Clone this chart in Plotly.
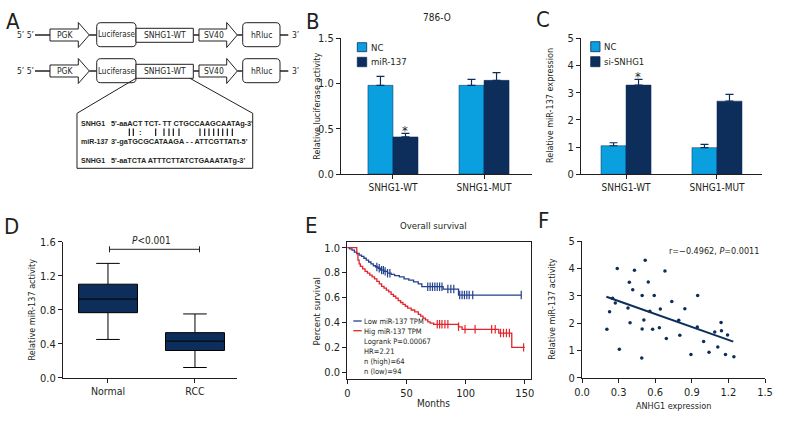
import numpy as np
import plotly.graph_objects as go

W, H = 792, 432
def px(x): return x / W
def py(y): return 1 - y / H

FONT = "Liberation Sans Narrow, Arial Narrow, DejaVu Sans Condensed, sans-serif"
SEQFONT = "Liberation Sans, Arial, sans-serif"
LIGHT = "#0aa0e0"
NAVY = "#0d2d5a"
INK = "#231f20"
KM_BLUE = "#23408e"
KM_RED = "#e3232b"

# ---------------- data ----------------
b_groups = ["SNHG1-WT", "SNHG1-MUT"]
b_nc = [0.98, 0.98]
b_nc_err = [0.10, 0.067]
b_mir = [0.41, 1.035]
b_mir_err = [0.04, 0.085]

c_groups = ["SNHG1-WT", "SNHG1-MUT"]
c_nc = [1.05, 0.98]
c_nc_err = [0.11, 0.12]
c_si = [3.28, 2.69]
c_si_err = [0.21, 0.25]

d_groups = ["Normal", "RCC"]
d_lower = [0.45, 0.12]
d_q1 = [0.765, 0.32]
d_median = [0.925, 0.43]
d_q3 = [1.10, 0.53]
d_upper = [1.345, 0.75]

e_low_t = [0, 2, 4, 6, 8, 10, 12, 14, 16, 18, 20, 22, 24, 26, 28, 31, 34, 37, 40, 44,
           48, 52, 56, 60, 63, 81, 94, 147]
e_low_s = [1.0, 0.99, 0.98, 0.965, 0.955, 0.94, 0.93, 0.915, 0.90, 0.885, 0.87, 0.855,
           0.845, 0.835, 0.82, 0.81, 0.795, 0.785, 0.775, 0.765, 0.75, 0.74, 0.725, 0.71,
           0.687, 0.668, 0.62, 0.62]
e_low_cens = [25, 27, 29, 30.5, 32, 34, 36, 68, 70, 72, 74, 76, 78, 80, 85, 87.5, 90,
              95, 97, 99, 101, 103, 106, 147]

e_high_t = [0, 8, 9, 10, 11, 13, 15, 17, 19, 21, 23, 25, 27, 29, 31, 33, 35, 37, 39, 41,
            43, 45, 47, 49, 51, 54, 57, 60, 62, 64, 66, 68, 70, 73, 94, 97, 128, 139, 150]
e_high_s = [1.0, 0.95, 0.90, 0.87, 0.85, 0.83, 0.81, 0.795, 0.78, 0.765, 0.75, 0.73, 0.71,
            0.69, 0.675, 0.66, 0.645, 0.625, 0.61, 0.595, 0.575, 0.56, 0.545, 0.53, 0.515,
            0.50, 0.485, 0.465, 0.45, 0.435, 0.42, 0.405, 0.395, 0.385, 0.365, 0.345,
            0.315, 0.20, 0.20]
e_high_cens = [76, 78, 80, 82.5, 85, 94, 99.5, 108, 122, 125, 129.5, 132, 134.5, 137, 149]

f_x = [0.204, 0.226, 0.251, 0.273, 0.289, 0.306, 0.377, 0.388, 0.394, 0.416, 0.430,
       0.493, 0.493, 0.490, 0.507, 0.518, 0.543, 0.556, 0.579, 0.592, 0.634, 0.642,
       0.680, 0.691, 0.736, 0.793, 0.802, 0.843, 0.893, 0.945, 0.948, 0.997, 1.041,
       1.088, 1.113, 1.140, 1.143, 1.176, 1.193, 1.245]
f_y = [1.77, 2.41, 2.91, 2.73, 3.99, 1.04, 2.55, 3.49, 2.01, 3.22, 3.93, 3.01, 1.78,
       0.72, 2.11, 4.30, 3.50, 2.43, 1.77, 3.01, 1.83, 2.51, 3.90, 1.43, 2.79, 2.10,
       1.55, 2.52, 0.85, 1.85, 3.01, 1.32, 0.93, 1.67, 1.12, 2.02, 1.72, 0.85, 1.56, 0.77]
f_fit_x = [0.20, 1.24]
f_fit_y = [2.96, 1.32]


def step_at(ts, ss, t):
    idx = np.searchsorted(np.array(ts), np.array(t), side="right") - 1
    return [ss[i] for i in idx]


fig = go.Figure()


def bar(x, y, err, color, xa, ya, grp):
    return go.Bar(x=x, y=y, marker=dict(color=color, line=dict(color=NAVY, width=0.5)),
                  error_y=dict(type="data", symmetric=False, array=err, arrayminus=[0] * len(err),
                               color=NAVY, thickness=1.2, width=4),
                  xaxis=xa, yaxis=ya, offsetgroup=grp, hoverinfo="skip")


# B
fig.add_trace(bar(b_groups, b_nc, b_nc_err, LIGHT, "x", "y", "1"))
fig.add_trace(bar(b_groups, b_mir, b_mir_err, NAVY, "x", "y", "2"))
# C
fig.add_trace(bar(c_groups, c_nc, c_nc_err, LIGHT, "x2", "y2", "1"))
fig.add_trace(bar(c_groups, c_si, c_si_err, NAVY, "x2", "y2", "2"))
# D
fig.add_trace(go.Box(x=d_groups, q1=d_q1, median=d_median, q3=d_q3, lowerfence=d_lower,
                     upperfence=d_upper, fillcolor=NAVY, line=dict(color="black", width=1),
                     whiskerwidth=0.4, width=0.678, boxpoints=False, xaxis="x3", yaxis="y3",
                     hoverinfo="skip"))
# E
fig.add_trace(go.Scatter(x=e_low_t, y=e_low_s, mode="lines", line=dict(color=KM_BLUE, width=1.3, shape="hv"),
                         xaxis="x4", yaxis="y4", hoverinfo="skip"))
fig.add_trace(go.Scatter(x=e_high_t, y=e_high_s, mode="lines", line=dict(color=KM_RED, width=1.3, shape="hv"),
                         xaxis="x4", yaxis="y4", hoverinfo="skip"))
fig.add_trace(go.Scatter(x=e_low_cens, y=step_at(e_low_t, e_low_s, e_low_cens), mode="markers",
                         marker=dict(symbol="line-ns", size=6, line=dict(color=KM_BLUE, width=1.2)),
                         xaxis="x4", yaxis="y4", hoverinfo="skip"))
fig.add_trace(go.Scatter(x=e_high_cens, y=step_at(e_high_t, e_high_s, e_high_cens), mode="markers",
                         marker=dict(symbol="line-ns", size=6, line=dict(color=KM_RED, width=1.2)),
                         xaxis="x4", yaxis="y4", hoverinfo="skip"))
# F
fig.add_trace(go.Scatter(x=f_x, y=f_y, mode="markers", marker=dict(color=NAVY, size=3.5),
                         xaxis="x5", yaxis="y5", hoverinfo="skip"))
fig.add_trace(go.Scatter(x=f_fit_x, y=f_fit_y, mode="lines", line=dict(color=NAVY, width=2),
                         xaxis="x5", yaxis="y5", hoverinfo="skip"))


def ax(size=11, **kw):
    d = dict(showline=True, linecolor=INK, linewidth=1, ticks="outside", ticklen=4, tickwidth=1,
             tickcolor=INK, showgrid=False, zeroline=False,
             tickfont=dict(family=FONT, size=size, color=INK), fixedrange=True)
    d.update(kw)
    return d


fig.update_layout(
    width=W, height=H, margin=dict(l=0, r=0, t=0, b=0, autoexpand=False),
    paper_bgcolor="white", plot_bgcolor="white", showlegend=False, hovermode=False,
    barmode="group", bargap=0.45, bargroupgap=0,
    xaxis=ax(10, domain=[px(341), px(532)], anchor="y", type="category", range=[-0.571, 1.527]),
    yaxis=ax(11, domain=[py(174), py(38.3)], anchor="x", range=[0, 1.5], tickvals=[0, 0.5, 1, 1.5], tickformat=".1f"),
    xaxis2=ax(10, domain=[px(581), px(762)], anchor="y2", type="category", range=[-0.495, 1.495]),
    yaxis2=ax(11, domain=[py(174.3), py(38.3)], anchor="x2", range=[0, 5], tickvals=[0, 1, 2, 3, 4, 5]),
    xaxis3=ax(10.5, domain=[px(63), px(237)], anchor="y3", type="category", range=[-0.517, 1.483]),
    yaxis3=ax(11, domain=[py(377.7), py(241.7)], anchor="x3", range=[0, 1.6], tickvals=[0, 0.4, 0.8, 1.2, 1.6], tickformat=".1f"),
    xaxis4=ax(11, domain=[px(347.3), px(530.7)], anchor="y4", range=[0, 155], tickvals=[0, 50, 100, 150], mirror=True),
    yaxis4=ax(11, domain=[py(379), py(241.7)], anchor="x4", range=[-0.054, 1.048], tickvals=[0, 0.2, 0.4, 0.6, 0.8, 1.0], tickformat=".1f", mirror=True),
    xaxis5=ax(11, domain=[px(582), px(765)], anchor="y5", range=[0, 1.5], tickvals=[0, 0.3, 0.6, 0.9, 1.2, 1.5], tickformat=".1f"),
    yaxis5=ax(11, domain=[py(377.7), py(241)], anchor="x5", range=[0, 5], tickvals=[0, 1, 2, 3, 4, 5]),
)

shapes = []
ann = []


def line(x0, y0, x1, y1, w=1, color=INK):
    shapes.append(dict(type="line", xref="paper", yref="paper", x0=px(x0), y0=py(y0), x1=px(x1), y1=py(y1),
                       line=dict(color=color, width=w)))


def rect(x0, y0, x1, y1, fill="white", w=1, color=INK):
    shapes.append(dict(type="rect", xref="paper", yref="paper", x0=px(x0), y0=py(y1), x1=px(x1), y1=py(y0),
                       fillcolor=fill, line=dict(color=color, width=w)))


def poly(pts, closed=True, fill="white", w=1, color=INK):
    p = "M " + " L ".join(f"{px(x):.5f},{py(y):.5f}" for x, y in pts)
    if closed:
        p += " Z"
    d = dict(type="path", xref="paper", yref="paper", path=p, line=dict(color=color, width=w))
    if closed:
        d["fillcolor"] = fill
    shapes.append(d)


def rrect(x0, y0, x1, y1, r=4, fill="white", w=1, color=INK):
    rx, ry = r / W, r / H
    X0, X1 = px(x0), px(x1)
    Y0, Y1 = py(y1), py(y0)
    p = (f"M {X0+rx:.5f},{Y1:.5f} L {X1-rx:.5f},{Y1:.5f} Q {X1:.5f},{Y1:.5f} {X1:.5f},{Y1-ry:.5f} "
         f"L {X1:.5f},{Y0+ry:.5f} Q {X1:.5f},{Y0:.5f} {X1-rx:.5f},{Y0:.5f} "
         f"L {X0+rx:.5f},{Y0:.5f} Q {X0:.5f},{Y0:.5f} {X0:.5f},{Y0+ry:.5f} "
         f"L {X0:.5f},{Y1-ry:.5f} Q {X0:.5f},{Y1:.5f} {X0+rx:.5f},{Y1:.5f} Z")
    shapes.append(dict(type="path", xref="paper", yref="paper", path=p, fillcolor=fill,
                       line=dict(color=color, width=w)))


def txt(x, y, s, size=11, xanchor="center", family=FONT, angle=0, color=INK, yanchor="middle"):
    ann.append(dict(x=px(x), y=py(y), xref="paper", yref="paper", text=s, showarrow=False,
                    xanchor=xanchor, yanchor=yanchor, textangle=angle, borderpad=0,
                    font=dict(family=family, size=size, color=color)))


# ---------------- panel A (schematic) ----------------
def arrow(x0, x1, xh, yc, label):
    poly([(x0, yc - 6), (x1, yc - 6), (x1, yc - 12.5), (xh, yc), (x1, yc + 12.5), (x1, yc + 6), (x0, yc + 6)])
    txt((x0 + x1) / 2 + 1, yc, label, size=8.5)


for yc in (35, 71):
    txt(25, yc, "5’ 5’", size=8.5)
    line(35, yc, 50, yc, w=1.5)
    arrow(50, 78.3, 89.3, yc, "PGK")
    line(89.3, yc, 96.7, yc, w=1.5)
    line(193.3, yc, 199, yc, w=1.5)
    line(237.3, yc, 242.7, yc, w=1.5)
    line(280, yc, 288.3, yc, w=1.5)
    rrect(96.7, yc - 12.3, 136, yc + 11.7, r=4)
    txt(116.3, yc, "Luciferase", size=8)
    rect(136, yc - 6.7, 193.3, yc + 7.3)
    txt(164.7, yc, "SNHG1-WT", size=8.5)
    arrow(199, 226.7, 237.3, yc, "SV40")
    rrect(242.7, yc - 12.3, 280, yc + 11.7, r=4)
    txt(261.3, yc, "hRluc", size=8.5)
    txt(295, yc, "3’", size=8.5)

# callout
poly([(136, 78.3), (77, 113.3), (77, 168.3), (252.7, 168.3), (252.7, 113.3), (190, 78.3)], closed=False)
seq_rows = [
    (123.3, "SNHG1", "5'-aaACT TCT- TT CTGCCAAGCAATAg-3'"),
    (141.7, "miR-137", "3'-gaTGCGCATAAGA - - ATTCGTTATt-5'"),
    (161.0, "SNHG1", "5'-aaTCTA ATTTCTTATCTGAAATATg-3'"),
]
for yy, lab, seq in seq_rows:
    txt(80, yy, f"<b>{lab}</b>", size=7, xanchor="left", family=SEQFONT)
    txt(110, yy, f"<b>{seq}</b>", size=7.3, xanchor="left", family=SEQFONT)
for bx in [129.3, 133.3, 155.7, 164, 169, 173.3, 179, 200, 204.7, 209, 213.7, 218.3, 222.7, 227.3, 232.3]:
    line(bx, 128.5, bx, 136, w=1.1, color="black")
txt(140, 132, "<b>:</b>", size=7.5, family=SEQFONT)

# ---------------- panel labels ----------------
for lab, x, y in [("A", 13.5, 21.7), ("B", 313.3, 21.7), ("C", 543, 20), ("D", 11.7, 226.7),
                  ("E", 311.7, 225), ("F", 543.3, 220)]:
    txt(x, y, lab, size=22)

# ---------------- B annotations ----------------
txt(437, 18, "786-O", size=10)
txt(316.7, 106, "Relative luciferase activity", size=9, angle=-90)
rect(357.3, 42.7, 366.7, 51.7, fill=LIGHT, w=0.8, color=NAVY)
rect(357.3, 57.3, 366.7, 66.7, fill=NAVY, w=0.8, color=NAVY)
txt(370, 47.2, "NC", size=9.5, xanchor="left")
txt(370, 62, "miR-137", size=9.5, xanchor="left")
txt(405, 131, "*", size=13)

# ---------------- C annotations ----------------
txt(550, 106, "Relative miR-137 expression", size=9, angle=-90)
rect(590.7, 41.7, 600, 51.7, fill=LIGHT, w=0.8, color=NAVY)
rect(590.7, 56.7, 600, 66.7, fill=NAVY, w=0.8, color=NAVY)
txt(603.3, 46.7, "NC", size=9.5, xanchor="left")
txt(603.3, 61.7, "si-SNHG1", size=9.5, xanchor="left")
txt(638.3, 77, "*", size=13)

# ---------------- D annotations ----------------
txt(31.7, 309.7, "Relative miR-137 activity", size=9, angle=-90)
line(109.5, 249.3, 199.5, 249.3, w=1)
line(109.5, 246.3, 109.5, 252.3, w=1)
line(199.5, 246.3, 199.5, 252.3, w=1)
txt(151.7, 240.7, "<i>P</i>&lt;0.001", size=10)

# ---------------- E annotations ----------------
txt(433.3, 225, "Overall survival", size=9.5)
txt(316.7, 311.7, "Percent survival", size=9.5, angle=-90)
txt(433.3, 403, "Months", size=10)
line(353.3, 321, 361.7, 321, w=1.3, color=KM_BLUE)
line(353.3, 330.7, 361.7, 330.7, w=1.3, color=KM_RED)
for i, s in enumerate(["Low miR-137 TPM", "Hig miR-137 TPM", "Logrank P=0.00067", "HR=2.21",
                       "n (high)=64", "n (low)=94"]):
    txt(363.3, 321 + 10 * i, s, size=7.5, xanchor="left")

# ---------------- F annotations ----------------
txt(551.7, 309, "Relative miR-137 activity", size=9, angle=-90)
txt(673.3, 406, "ANHG1 expression", size=9)
txt(714, 251, "r=−0.4962, <i>P</i>=0.0011", size=9)

fig.update_layout(shapes=shapes, annotations=ann)
fig.write_html("out.html", config={"displayModeBar": False, "staticPlot": True},
               post_script="document.body.style.margin='0px';document.body.style.padding='0px';")
